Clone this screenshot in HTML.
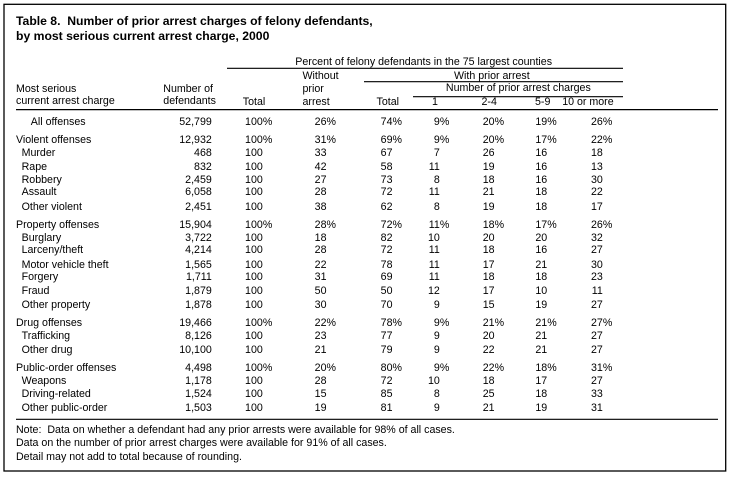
<!DOCTYPE html>
<html><head><meta charset="utf-8"><style>
html,body{margin:0;padding:0;background:#fff;}
#w{position:relative;width:729px;height:479px;overflow:hidden;background:#fff;font-family:"Liberation Sans",Arial,sans-serif;font-size:10.65px;color:#000;}
svg{position:absolute;left:0;top:0;}
.t{position:absolute;white-space:nowrap;line-height:13px;}
.r{position:absolute;left:0;width:729px;height:13px;line-height:13px;white-space:nowrap;}
.r span{position:absolute;top:0;}
.p{display:inline-block;width:0;position:static!important;font-style:normal;}
i{font-style:normal;}
.L0{left:30.8px}.L1{left:16px}.L2{left:21.6px}
.d{right:517.2px}.a{right:466.2px}.b{right:402.5px}.c{right:336.5px}.e{right:289.2px}.f{right:234.4px}.g{right:181.8px}.h{right:126.2px}
.title{position:absolute;left:16px;top:14.4px;font-weight:bold;font-size:12.2px;line-height:14.7px;white-space:nowrap;}
</style></head><body><div id="w">
<svg width="729" height="479">
<rect x="4" y="4.3" width="721.7" height="466.7" fill="none" stroke="#000" stroke-width="1.3"/>
<g stroke="#000" stroke-width="1.2">
<line x1="227" y1="68.3" x2="623" y2="68.3"/>
<line x1="364" y1="81.7" x2="623" y2="81.7"/>
<line x1="413" y1="96.7" x2="623" y2="96.7"/>
<line x1="16" y1="109.6" x2="718" y2="109.6"/>
<line x1="16" y1="419.3" x2="718" y2="419.3"/>
</g></svg>
<div class="title">Table 8.&nbsp; Number of prior arrest charges of felony defendants,<br>by most serious current arrest charge, 2000</div>

<div class="t" style="left:295.3px;top:55.6px">Percent of felony defendants in the 75 largest counties</div>
<div class="t" style="left:454px;top:69.6px">With prior arrest</div>
<div class="t" style="left:302.5px;top:69.6px">Without</div>
<div class="t" style="left:16px;top:82.6px">Most serious</div>
<div class="t" style="left:163.3px;top:82.6px">Number of</div>
<div class="t" style="left:302.5px;top:82.6px">prior</div>
<div class="t" style="left:445.9px;top:82.3px">Number of prior arrest charges</div>
<div class="t" style="left:16px;top:95.3px">current arrest charge</div>
<div class="t" style="left:163.3px;top:95.3px">defendants</div>
<div class="t" style="left:242.8px;top:95.6px">Total</div>
<div class="t" style="left:302.5px;top:95.6px">arrest</div>
<div class="t" style="left:376.5px;top:95.6px">Total</div>
<div class="t" style="left:432px;top:95.6px">1</div>
<div class="t" style="left:481.5px;top:95.6px">2-4</div>
<div class="t" style="left:535px;top:95.6px">5-9</div>
<div class="t" style="left:562.2px;top:95.6px">10 or more</div>

<div class="r" style="top:116.3px"><span class="L0">All offenses</span><span class="d">52,799</span><span class="a">100<i class="p">%</i></span><span class="b">26<i class="p">%</i></span><span class="c">74<i class="p">%</i></span><span class="e">9<i class="p">%</i></span><span class="f">20<i class="p">%</i></span><span class="g">19<i class="p">%</i></span><span class="h">26<i class="p">%</i></span></div>
<div class="r" style="top:133.6px"><span class="L1">Violent offenses</span><span class="d">12,932</span><span class="a">100<i class="p">%</i></span><span class="b">31<i class="p">%</i></span><span class="c">69<i class="p">%</i></span><span class="e">9<i class="p">%</i></span><span class="f">20<i class="p">%</i></span><span class="g">17<i class="p">%</i></span><span class="h">22<i class="p">%</i></span></div>
<div class="r" style="top:146.9px"><span class="L2">Murder</span><span class="d">468</span><span class="a">100</span><span class="b">33</span><span class="c">67</span><span class="e">7</span><span class="f">26</span><span class="g">16</span><span class="h">18</span></div>
<div class="r" style="top:160.9px"><span class="L2">Rape</span><span class="d">832</span><span class="a">100</span><span class="b">42</span><span class="c">58</span><span class="e">11</span><span class="f">19</span><span class="g">16</span><span class="h">13</span></div>
<div class="r" style="top:173.6px"><span class="L2">Robbery</span><span class="d">2,459</span><span class="a">100</span><span class="b">27</span><span class="c">73</span><span class="e">8</span><span class="f">18</span><span class="g">16</span><span class="h">30</span></div>
<div class="r" style="top:186.3px"><span class="L2">Assault</span><span class="d">6,058</span><span class="a">100</span><span class="b">28</span><span class="c">72</span><span class="e">11</span><span class="f">21</span><span class="g">18</span><span class="h">22</span></div>
<div class="r" style="top:200.9px"><span class="L2">Other violent</span><span class="d">2,451</span><span class="a">100</span><span class="b">38</span><span class="c">62</span><span class="e">8</span><span class="f">19</span><span class="g">18</span><span class="h">17</span></div>
<div class="r" style="top:218.6px"><span class="L1">Property offenses</span><span class="d">15,904</span><span class="a">100<i class="p">%</i></span><span class="b">28<i class="p">%</i></span><span class="c">72<i class="p">%</i></span><span class="e">11<i class="p">%</i></span><span class="f">18<i class="p">%</i></span><span class="g">17<i class="p">%</i></span><span class="h">26<i class="p">%</i></span></div>
<div class="r" style="top:231.9px"><span class="L2">Burglary</span><span class="d">3,722</span><span class="a">100</span><span class="b">18</span><span class="c">82</span><span class="e">10</span><span class="f">20</span><span class="g">20</span><span class="h">32</span></div>
<div class="r" style="top:244.1px"><span class="L2">Larceny/theft</span><span class="d">4,214</span><span class="a">100</span><span class="b">28</span><span class="c">72</span><span class="e">11</span><span class="f">18</span><span class="g">16</span><span class="h">27</span></div>
<div class="r" style="top:258.6px"><span class="L2">Motor vehicle theft</span><span class="d">1,565</span><span class="a">100</span><span class="b">22</span><span class="c">78</span><span class="e">11</span><span class="f">17</span><span class="g">21</span><span class="h">30</span></div>
<div class="r" style="top:271.3px"><span class="L2">Forgery</span><span class="d">1,711</span><span class="a">100</span><span class="b">31</span><span class="c">69</span><span class="e">11</span><span class="f">18</span><span class="g">18</span><span class="h">23</span></div>
<div class="r" style="top:284.6px"><span class="L2">Fraud</span><span class="d">1,879</span><span class="a">100</span><span class="b">50</span><span class="c">50</span><span class="e">12</span><span class="f">17</span><span class="g">10</span><span class="h">11</span></div>
<div class="r" style="top:298.6px"><span class="L2">Other property</span><span class="d">1,878</span><span class="a">100</span><span class="b">30</span><span class="c">70</span><span class="e">9</span><span class="f">15</span><span class="g">19</span><span class="h">27</span></div>
<div class="r" style="top:316.9px"><span class="L1">Drug offenses</span><span class="d">19,466</span><span class="a">100<i class="p">%</i></span><span class="b">22<i class="p">%</i></span><span class="c">78<i class="p">%</i></span><span class="e">9<i class="p">%</i></span><span class="f">21<i class="p">%</i></span><span class="g">21<i class="p">%</i></span><span class="h">27<i class="p">%</i></span></div>
<div class="r" style="top:329.6px"><span class="L2">Trafficking</span><span class="d">8,126</span><span class="a">100</span><span class="b">23</span><span class="c">77</span><span class="e">9</span><span class="f">20</span><span class="g">21</span><span class="h">27</span></div>
<div class="r" style="top:343.6px"><span class="L2">Other drug</span><span class="d">10,100</span><span class="a">100</span><span class="b">21</span><span class="c">79</span><span class="e">9</span><span class="f">22</span><span class="g">21</span><span class="h">27</span></div>
<div class="r" style="top:361.9px"><span class="L1">Public-order offenses</span><span class="d">4,498</span><span class="a">100<i class="p">%</i></span><span class="b">20<i class="p">%</i></span><span class="c">80<i class="p">%</i></span><span class="e">9<i class="p">%</i></span><span class="f">22<i class="p">%</i></span><span class="g">18<i class="p">%</i></span><span class="h">31<i class="p">%</i></span></div>
<div class="r" style="top:375.3px"><span class="L2">Weapons</span><span class="d">1,178</span><span class="a">100</span><span class="b">28</span><span class="c">72</span><span class="e">10</span><span class="f">18</span><span class="g">17</span><span class="h">27</span></div>
<div class="r" style="top:388.1px"><span class="L2">Driving-related</span><span class="d">1,524</span><span class="a">100</span><span class="b">15</span><span class="c">85</span><span class="e">8</span><span class="f">25</span><span class="g">18</span><span class="h">33</span></div>
<div class="r" style="top:401.9px"><span class="L2">Other public-order</span><span class="d">1,503</span><span class="a">100</span><span class="b">19</span><span class="c">81</span><span class="e">9</span><span class="f">21</span><span class="g">19</span><span class="h">31</span></div>

<div class="t" style="left:16px;top:424.2px">Note:&nbsp; Data on whether a defendant had any prior arrests were available for 98% of all cases.</div>
<div class="t" style="left:16px;top:437.4px">Data on the number of prior arrest charges were available for 91% of all cases.</div>
<div class="t" style="left:16px;top:451.2px">Detail may not add to total because of rounding.</div>
</div></body></html>
